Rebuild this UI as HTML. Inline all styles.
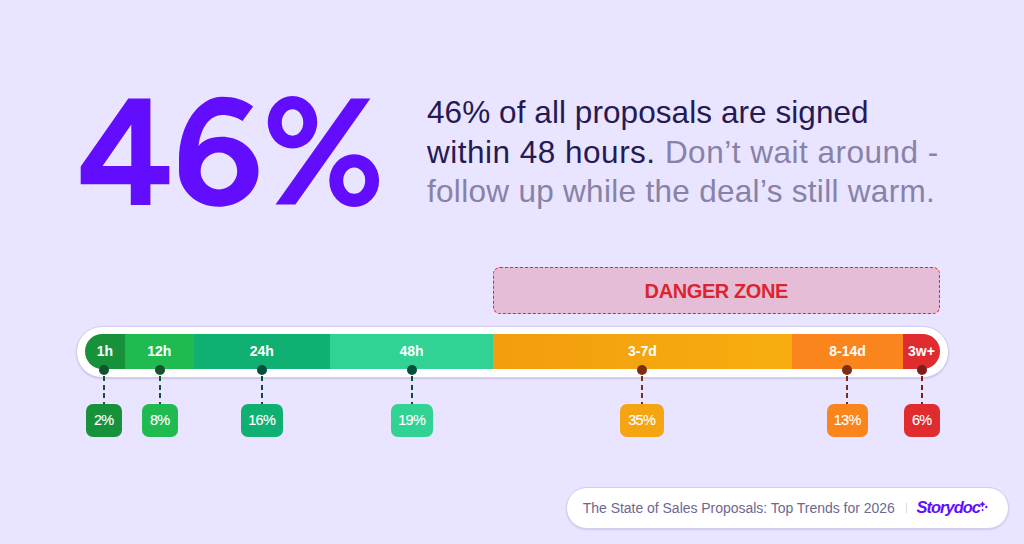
<!DOCTYPE html>
<html><head><meta charset="utf-8">
<style>
*{margin:0;padding:0;box-sizing:border-box}
html,body{width:1024px;height:544px;overflow:hidden}
body{background:#e9e4ff;font-family:"Liberation Sans",sans-serif;position:relative}
.para{position:absolute;left:427px;top:93.3px;font-size:31.5px;line-height:39.5px;color:#251a53;white-space:nowrap}
.l0{letter-spacing:0.07px}.l1{letter-spacing:0.5px}.l2{letter-spacing:0.3px}
.para .g{color:#8882a6}
.danger{position:absolute;left:493px;top:267px;width:447px;height:46.5px;border:1.3px dashed #dc2a36;border-radius:7px;background:#e6bdd6;color:#dc2430;font-weight:bold;font-size:20px;text-align:center;line-height:46px;letter-spacing:-0.4px;text-indent:-0.4px}
.outer{position:absolute;left:76px;top:325.5px;width:872.5px;height:52px;background:#fff;border:1px solid #d6cdee;border-radius:26px;box-shadow:0 1px 1.5px rgba(90,70,150,0.22)}
.inner{position:absolute;left:85px;top:334.3px;width:855px;height:34.8px;border-radius:17.4px;overflow:hidden;display:flex}
.seg{height:100%;color:#fff;font-weight:bold;font-size:14px;display:flex;align-items:center;justify-content:center;padding-bottom:0.5px}
.dot{position:absolute;width:10px;height:10px;border-radius:50%;top:365px}
.dash{position:absolute;width:2.4px;top:375.5px;height:28.5px;margin-left:-0.2px}
.box{position:absolute;top:404px;height:33px;border-radius:7px;color:#fff;font-size:14.5px;line-height:33px;text-align:center;letter-spacing:-0.7px;text-indent:-0.7px;-webkit-text-stroke:0.12px #fff}
.pill{position:absolute;left:566px;top:487px;width:442.9px;height:42px;background:#fff;border:1px solid #d6cdee;border-radius:21px;box-shadow:0 1px 1.5px rgba(90,70,150,0.18)}
.ptxt{position:absolute;left:582.8px;top:500px;font-size:14px;color:#6e6790;white-space:nowrap;letter-spacing:-0.03px}
.sep{position:absolute;left:906px;top:503px;width:1.2px;height:10px;background:#dedaea}
.logo{position:absolute;left:916.5px;top:498px;font-size:16.5px;font-weight:bold;font-style:italic;color:#620dfe;letter-spacing:-1px}
</style></head><body>
<svg class="bigsvg" width="1024" height="544" viewBox="0 0 1024 544" style="position:absolute;left:0;top:0">
<g fill="#620dfe" fill-rule="evenodd">
<path d="M128.3 98.5H150.4V165.9H169.3V184.3H150.4V205H130.8V184.3H80.7V166.5ZM131.3 124.5V165.9H102.6Z"/>
<path d="M253.1 106.4C245 100 234 96.75 222.5 96.75C198.5 96.75 179 125.1 179 160V171C179 190.8 196.8 206.8 218.7 206.8C240.6 206.8 258.5 190.8 258.5 171C258.5 152.1 242.1 136.75 221.9 136.75C210 136.75 203 140.5 198.5 146C201 127 210 115.1 222.5 115.1C230 115.1 237 117.5 242.5 121Z M218.9 152.6A18.3 18.4 0 1 0 218.9 189.4A18.3 18.4 0 1 0 218.9 152.6Z"/>
<path d="M292.5 96A24.75 26.3 0 1 0 292.5 148.6A24.75 26.3 0 1 0 292.5 96ZM292.5 109.35A10.75 13.15 0 1 0 292.5 135.65A10.75 13.15 0 1 0 292.5 109.35Z"/>
<path d="M354.2 154.3A24.9 26.3 0 1 0 354.2 206.9A24.9 26.3 0 1 0 354.2 154.3ZM354.2 167.4A11 13.2 0 1 0 354.2 193.8A11 13.2 0 1 0 354.2 167.4Z"/>
<path d="M350.8 98.6H370.4L295.4 204.5H275.5Z"/>
</g></svg>
<div class="para"><span class="l0">46% of all proposals are signed</span><br><span class="l1">within 48 hours. <span class="g">Don’t wait around -</span></span><br><span class="l2 g">follow up while the deal’s still warm.</span></div>
<div class="danger">DANGER ZONE</div>
<div class="outer"></div>
<div class="inner">
 <div class="seg" style="width:40px;background:#17923b">1h</div>
 <div class="seg" style="width:68.7px;background:#1fbb50">12h</div>
 <div class="seg" style="width:136.3px;background:#10b073">24h</div>
 <div class="seg" style="width:163px;background:#32d194">48h</div>
 <div class="seg" style="width:299px;background:linear-gradient(90deg,#f29e0e,#f7ad0f)">3-7d</div>
 <div class="seg" style="width:111px;background:#fa851c">8-14d</div>
 <div class="seg" style="width:37px;background:#e02c2f">3w+</div>
</div>
<div class="dot" style="left:99px;background:#14532d"></div>
<div class="dot" style="left:155px;background:#14532d"></div>
<div class="dot" style="left:257px;background:#064e3b"></div>
<div class="dot" style="left:407px;background:#064e3b"></div>
<div class="dot" style="left:637px;background:#7c2d12"></div>
<div class="dot" style="left:842px;background:#7c2d12"></div>
<div class="dot" style="left:917px;background:#7f1d1d"></div>
<div class="dash" style="left:103px;background:repeating-linear-gradient(#14532d 0 5px,transparent 5px 8.7px)"></div>
<div class="dash" style="left:159px;background:repeating-linear-gradient(#14532d 0 5px,transparent 5px 8.7px)"></div>
<div class="dash" style="left:261px;background:repeating-linear-gradient(#064e3b 0 5px,transparent 5px 8.7px)"></div>
<div class="dash" style="left:411px;background:repeating-linear-gradient(#064e3b 0 5px,transparent 5px 8.7px)"></div>
<div class="dash" style="left:641px;background:repeating-linear-gradient(#7c2d12 0 5px,transparent 5px 8.7px)"></div>
<div class="dash" style="left:846px;background:repeating-linear-gradient(#7c2d12 0 5px,transparent 5px 8.7px)"></div>
<div class="dash" style="left:921px;background:repeating-linear-gradient(#7f1d1d 0 5px,transparent 5px 8.7px)"></div>
<div class="box" style="left:86px;width:36px;background:#17923b">2%</div>
<div class="box" style="left:142px;width:36px;background:#1fbb50">8%</div>
<div class="box" style="left:241px;width:42px;background:#10b073">16%</div>
<div class="box" style="left:391px;width:42px;background:#32d194">19%</div>
<div class="box" style="left:620px;width:44px;background:#f4a511">35%</div>
<div class="box" style="left:827px;width:41px;background:#fa851c">13%</div>
<div class="box" style="left:904px;width:36px;background:#e02c2f">6%</div>
<div class="pill"></div>
<div class="ptxt">The State of Sales Proposals: Top Trends for 2026</div>
<div class="sep"></div>
<div class="logo">Storydoc</div>
<svg width="1024" height="544" style="position:absolute;left:0;top:0"><g fill="#620dfe">
<path d="M982.5 501.2Q983.2 503.5 985.6 504.2Q983.2 504.9 982.5 507.2Q981.8 504.9 979.4 504.2Q981.8 503.5 982.5 501.2Z"/>
<path d="M986.3 505.5L987.8 507L986.3 508.5L984.8 507Z"/>
<path d="M982.6 508.8L983.8 510L982.6 511.2L981.4 510Z"/>
</g></svg>
</body></html>
